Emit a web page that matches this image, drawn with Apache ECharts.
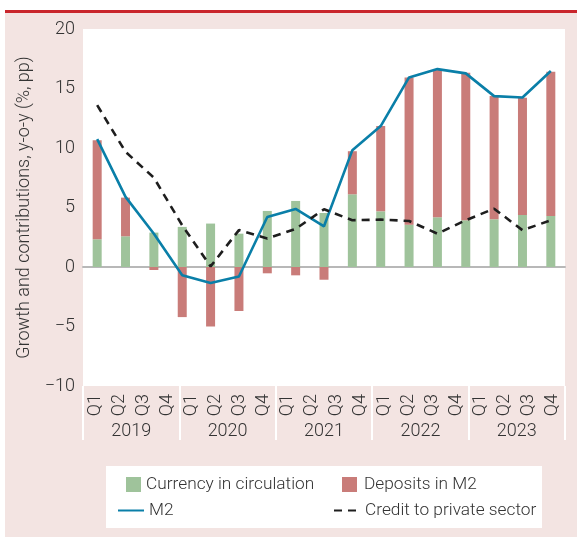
<!DOCTYPE html>
<html><head><meta charset="utf-8">
<script src="https://cdn.jsdelivr.net/npm/echarts@6/dist/echarts.min.js"></script>
<style>html,body{margin:0;padding:0;background:#fff}#c{width:577px;height:537px}</style>
</head><body><div id="c"></div>
<script>
const quarterLabels = ['Q1','Q2','Q3','Q4','Q1','Q2','Q3','Q4','Q1','Q2','Q3','Q4','Q1','Q2','Q3','Q4','Q1','Q2','Q3','Q4'];
const years = ['2019','2020','2021','2022','2023'];
const periods = ['p1','p2','p3','p4','p5','p6','p7','p8','p9','p10','p11','p12','p13','p14','p15','p16','p17'];
const currency = [2.33,2.58,2.89,3.37,3.65,2.80,4.71,5.55,4.54,6.11,4.68,3.56,4.18,3.93,4.01,4.38,4.29];
const deposits = [8.33,3.25,-0.25,-4.21,-5.0,-3.7,-0.53,-0.7,-1.07,3.62,7.16,12.37,12.37,12.40,10.35,9.84,12.12];
const m2 = [10.74,5.89,2.8,-0.7,-1.35,-0.8,4.2,4.88,3.42,9.82,11.84,15.93,16.63,16.27,14.36,14.25,16.47];
const credit = [13.6,9.68,7.5,3.5,0.05,3.1,2.4,3.2,4.85,3.93,3.98,3.87,2.8,3.93,4.9,3.09,3.93];
const yTitle = 'Growth and contributions, y-o-y (%, pp)';

const FONT = 'Roboto, "Liberation Sans", sans-serif';
const TXT = '#333';
const chart = echarts.init(document.getElementById('c'), null, {renderer:'canvas'});
const legendText = {fontFamily: FONT, fontSize: 17.3, fontWeight: 300, color: TXT};
chart.setOption({
  backgroundColor: '#fff',
  animation: false,
  textStyle: {fontFamily: FONT},
  graphic: [
    {type:'rect', z:-100, shape:{x:5,y:13,width:572,height:524}, style:{fill:'#f3e4e2'}},
    {type:'rect', z:-100, shape:{x:5,y:10,width:572,height:3}, style:{fill:'#c9252c'}},
    {type:'rect', z:-50, shape:{x:106,y:466,width:436,height:62}, style:{fill:'#fff'}}
  ],
  grid: {left:83, right:12, top:29, bottom:151, show:true, backgroundColor:'#fff', borderWidth:0},
  legend: [
    {data:['Currency in circulation'], left:126, top:476, padding:0, itemWidth:15, itemHeight:15, icon:'rect', textStyle:legendText},
    {data:['Deposits in M2'], left:342, top:476, padding:0, itemWidth:15, itemHeight:15, icon:'rect', textStyle:Object.assign({padding:[0,0,0,2]}, legendText)},
    {data:['M2'], left:117, top:502, padding:0, itemWidth:26, itemHeight:15, itemStyle:{opacity:0}, textStyle:legendText},
    {data:['Credit to private sector'], left:333, top:502, padding:0, itemWidth:22, itemHeight:15, itemStyle:{opacity:0}, textStyle:Object.assign({padding:[0,0,0,4]}, legendText)}
  ],
  xAxis: [
    {type:'category', data:periods, position:'bottom', boundaryGap:true,
     axisLine:{show:true, onZero:true, lineStyle:{color:'#b8b8b8', width:2}},
     axisTick:{show:false}, axisLabel:{show:false}, splitLine:{show:false}},
    {type:'category', data:quarterLabels, position:'bottom', boundaryGap:true,
     axisLine:{show:false, onZero:false}, axisTick:{show:false},
     axisLabel:{rotate:90, interval:0, margin:8, fontSize:18, fontWeight:300, color:TXT, fontFamily:FONT}},
    {type:'category', data:years, position:'bottom', boundaryGap:true,
     axisLine:{show:false, onZero:false},
     axisTick:{show:true, interval:0, length:54, lineStyle:{color:'#fff', width:2}},
     axisLabel:{interval:0, margin:36, fontSize:18, fontWeight:300, color:TXT, fontFamily:FONT}}
  ],
  yAxis: {type:'value', min:-10, max:20, interval:5,
    name: yTitle, nameLocation:'middle', nameGap:37,
    nameTextStyle:{fontSize:18, fontWeight:300, color:TXT, fontFamily:FONT},
    axisLine:{show:false}, axisTick:{show:false}, splitLine:{show:false},
    axisLabel:{margin:8, fontSize:18, fontWeight:300, color:TXT, fontFamily:FONT,
      formatter: v => v < 0 ? '\u2212' + Math.abs(v) : String(v)}},
  series: [
    {name:'Currency in circulation', type:'bar', stack:'s', data:currency, barWidth:9, itemStyle:{color:'#9fc39b'}, z:2},
    {name:'Deposits in M2', type:'bar', stack:'s', data:deposits, barWidth:9, itemStyle:{color:'#c97c79'}, z:2},
    {name:'M2', type:'line', data:m2, symbol:'none', lineStyle:{color:'#0a7fa8', width:2.6}, itemStyle:{color:'#0a7fa8'}, z:4},
    {name:'Credit to private sector', type:'line', data:credit, symbol:'none', lineStyle:{color:'#1e1e1e', width:2.6, type:[8,6]}, itemStyle:{color:'#1e1e1e'}, z:5}
  ]
});
</script></body></html>
